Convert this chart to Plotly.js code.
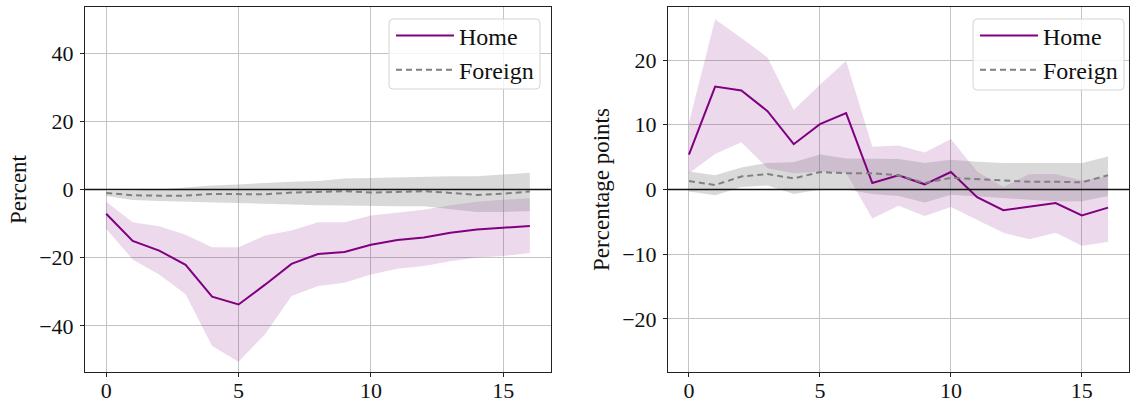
<!DOCTYPE html>
<html>
<head>
<meta charset="utf-8">
<script src="https://cdn.plot.ly/plotly-3.0.1.min.js"></script>
<style>
  html, body { margin: 0; padding: 0; background: #fff; }
  #chart { width: 1131px; height: 405px; }
</style>
</head>
<body>
<div id="chart"></div>
<script>
// Impulse-response horizons
const horizon = [0, 1, 2, 3, 4, 5, 6, 7, 8, 9, 10, 11, 12, 13, 14, 15, 16];

// Left panel (Percent)
const leftHome        = [-7.1, -15.1, -17.9, -22.1, -31.4, -33.7, -27.9, -21.8, -18.9, -18.3, -16.2, -14.8, -14.1, -12.7, -11.7, -11.3, -10.7];
const leftHomeUpper   = [-3.6, -9.6, -10.8, -13.3, -16.9, -16.9, -13.5, -12.0, -9.6, -9.6, -7.6, -6.7, -5.9, -4.6, -3.6, -3.0, -2.6];
const leftHomeLower   = [-11.5, -20.5, -24.9, -30.7, -45.9, -50.5, -42.4, -31.2, -28.3, -27.3, -24.9, -23.2, -22.4, -21.0, -19.9, -19.5, -18.6];
const leftForeign     = [-1.0, -1.7, -1.8, -1.8, -1.3, -1.4, -1.4, -0.9, -0.8, -0.5, -0.9, -0.7, -0.5, -1.0, -1.6, -1.2, -0.6];
const leftForeignUpper = [-0.5, -0.4, 0.0, 0.6, 1.2, 1.5, 2.0, 2.3, 2.5, 3.2, 3.4, 3.6, 3.9, 3.9, 3.9, 4.4, 4.9];
const leftForeignLower = [-1.9, -3.1, -3.4, -3.6, -3.9, -4.1, -4.4, -4.4, -4.6, -4.7, -4.9, -4.9, -4.9, -5.7, -6.6, -6.6, -6.3];

// Right panel (Percentage points)
const rightHome        = [5.4, 15.9, 15.3, 12.1, 7.0, 10.1, 11.8, 1.0, 2.2, 0.8, 2.7, -1.2, -3.2, -2.7, -2.1, -4.0, -2.8];
const rightHomeUpper   = [10.3, 26.3, 23.4, 20.4, 12.3, 16.2, 19.9, 6.6, 6.8, 5.7, 7.8, 2.8, 0.4, 2.4, 2.4, 1.4, 2.0];
const rightHomeLower   = [2.5, 5.5, 7.3, 3.3, 2.5, 2.8, 2.6, -4.5, -2.5, -4.1, -2.7, -4.7, -6.7, -7.7, -6.7, -8.7, -8.1];
const rightForeign     = [1.3, 0.7, 2.0, 2.4, 1.7, 2.7, 2.5, 2.5, 2.2, 1.0, 1.8, 1.6, 1.3, 1.2, 1.2, 1.1, 2.2];
const rightForeignUpper = [2.8, 2.2, 3.4, 4.1, 4.2, 5.4, 4.8, 4.7, 4.7, 4.1, 4.6, 4.3, 4.1, 4.1, 4.1, 4.1, 5.1];
const rightForeignLower = [-0.3, -0.9, 0.4, 0.6, -0.7, 0.0, 0.0, -0.7, -1.0, -2.0, -0.8, -1.0, -1.3, -1.6, -1.8, -1.8, -1.0];

const seriesNames = ['Home', 'Foreign'];
const xTicks = [0, 5, 10, 15];

const PURPLE = '#800080';
const GREY = '#808080';
const PURPLE_FILL = 'rgba(128,0,128,0.15)';
const GREY_FILL = 'rgba(128,128,128,0.30)';
const FONT = 'Liberation Serif, Times New Roman, serif';

function band(lower, upper, fill, xa, ya) {
  return [
    { x: horizon, y: lower, xaxis: xa, yaxis: ya, mode: 'lines',
      line: { width: 0, color: fill }, showlegend: false, hoverinfo: 'skip' },
    { x: horizon, y: upper, xaxis: xa, yaxis: ya, mode: 'lines', fill: 'tonexty',
      fillcolor: fill, line: { width: 0, color: fill }, showlegend: false, hoverinfo: 'skip' }
  ];
}

function panel(home, homeLo, homeUp, foreign, forLo, forUp, xa, ya, legendId) {
  return [
    ...band(homeLo, homeUp, PURPLE_FILL, xa, ya),
    ...band(forLo, forUp, GREY_FILL, xa, ya),
    { x: horizon, y: home, xaxis: xa, yaxis: ya, mode: 'lines', name: seriesNames[0],
      line: { color: PURPLE, width: 2 }, legend: legendId },
    { x: horizon, y: foreign, xaxis: xa, yaxis: ya, mode: 'lines', name: seriesNames[1],
      line: { color: GREY, width: 2, dash: '6px,4px' }, legend: legendId }
  ];
}

const traces = [
  ...panel(leftHome, leftHomeLower, leftHomeUpper, leftForeign, leftForeignLower, leftForeignUpper, 'x', 'y', 'legend'),
  ...panel(rightHome, rightHomeLower, rightHomeUpper, rightForeign, rightForeignLower, rightForeignUpper, 'x2', 'y2', 'legend2')
];

const W = 1131, H = 405;
const yDomain = [1 - 372 / H, 1 - 7 / H];

function xAxis(domain, anchor) {
  return {
    domain: domain, anchor: anchor, range: [-0.8, 16.8],
    tickvals: xTicks, ticks: 'outside', ticklen: 4, tickcolor: '#222',
    showline: true, mirror: true, linecolor: '#222', linewidth: 1,
    showgrid: true, gridcolor: '#c4c4c4', gridwidth: 1, zeroline: false,
    tickfont: { family: FONT, size: 22, color: '#111' }, ticklabelstandoff: -5
  };
}

function yAxis(range, dtick, title, anchor) {
  return {
    domain: yDomain, anchor: anchor, range: range, dtick: dtick, tick0: 0,
    ticks: 'outside', ticklen: 4, tickcolor: '#222',
    showline: true, mirror: true, linecolor: '#222', linewidth: 1,
    showgrid: true, gridcolor: '#c4c4c4', gridwidth: 1, zeroline: false,
    tickfont: { family: FONT, size: 22, color: '#111' }, ticklabelstandoff: 2,
    title: { text: title, font: { family: FONT, size: 23, color: '#111' }, standoff: 6 }
  };
}

// Legend frame (rounded, semi-transparent) drawn as a paper-space shape
function frame(x0px, x1px, y0px, y1px) {
  const r = 4;
  const X = v => v / W, Y = v => 1 - v / H;
  const rx = r / W, ry = r / H;
  const a = X(x0px), b = X(x1px), t = Y(y0px), u = Y(y1px);
  const path = `M ${a + rx} ${t} L ${b - rx} ${t} Q ${b} ${t} ${b} ${t - ry} ` +
    `L ${b} ${u + ry} Q ${b} ${u} ${b - rx} ${u} L ${a + rx} ${u} Q ${a} ${u} ${a} ${u + ry} ` +
    `L ${a} ${t - ry} Q ${a} ${t} ${a + rx} ${t} Z`;
  return { type: 'path', xref: 'paper', yref: 'paper', path: path, layer: 'above',
    fillcolor: 'rgba(255,255,255,0.8)', line: { color: '#d4d4d4', width: 1 } };
}

function legendBox(xLeft) {
  return {
    x: xLeft, y: 1 - 53 / H, xanchor: 'left', yanchor: 'middle',
    bgcolor: 'rgba(0,0,0,0)', borderwidth: 0,
    font: { family: FONT, size: 24, color: '#111' }, traceorder: 'normal',
    tracegroupgap: 0, itemwidth: 58
  };
}

const layout = {
  width: W, height: H,
  margin: { l: 0, r: 0, t: 0, b: 0 },
  paper_bgcolor: '#fff', plot_bgcolor: '#fff',
  xaxis: xAxis([85 / W, 551 / W], 'y'),
  yaxis: yAxis([-53.5, 53.5], 20, 'Percent', 'x'),
  xaxis2: xAxis([668 / W, 1129 / W], 'y2'),
  yaxis2: yAxis([-28.2, 28.2], 10, 'Percentage points', 'x2'),
  legend: legendBox(391 / W),
  legend2: legendBox(975 / W),
  shapes: [
    { type: 'line', xref: 'x domain', yref: 'y', x0: 0, x1: 1, y0: 0, y1: 0,
      line: { color: '#111', width: 1.5 }, layer: 'above' },
    { type: 'line', xref: 'x2 domain', yref: 'y2', x0: 0, x1: 1, y0: 0, y1: 0,
      line: { color: '#111', width: 1.5 }, layer: 'above' },
    frame(389, 540, 19, 89),
    frame(973, 1124, 19, 90)
  ],
  showlegend: true
};

Plotly.newPlot('chart', traces, layout, { staticPlot: true, displayModeBar: false });
</script>
</body>
</html>
